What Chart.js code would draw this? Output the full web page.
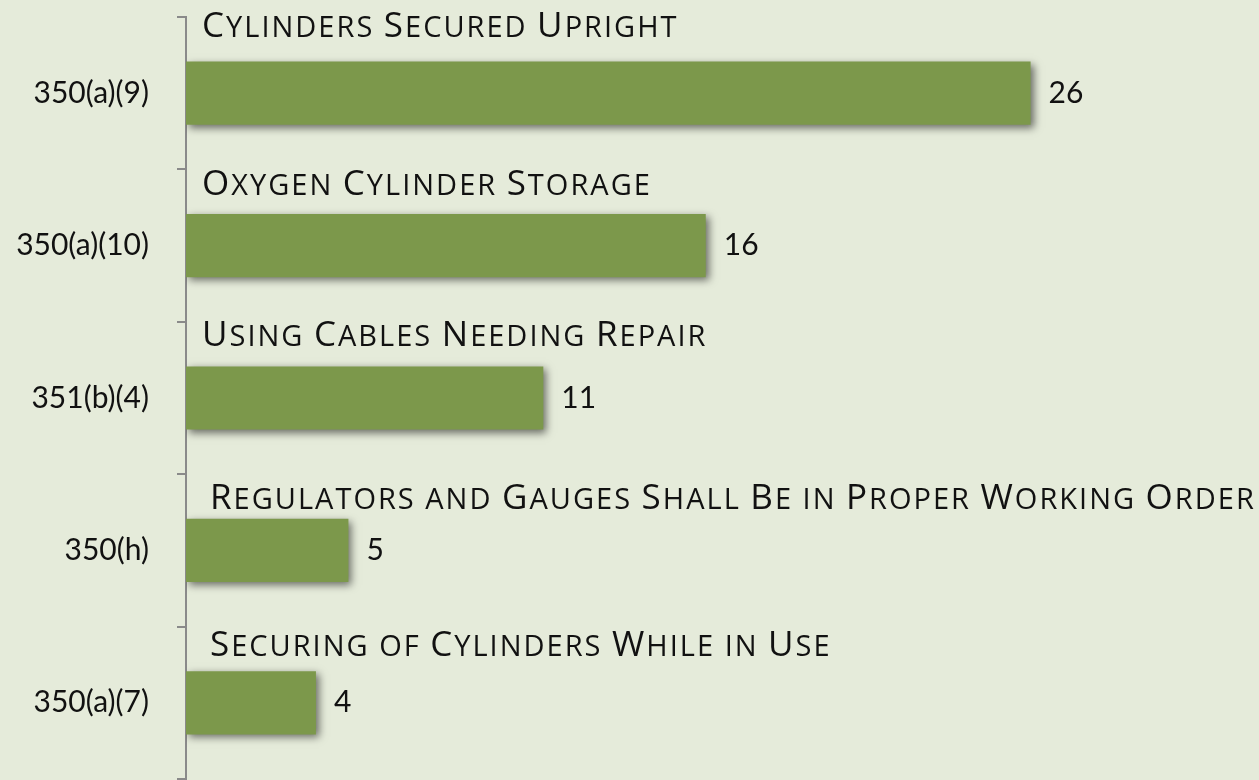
<!DOCTYPE html>
<html>
<head>
<meta charset="utf-8">
<script src="https://cdn.jsdelivr.net/npm/chart.js@4"></script>
<style>
  html, body { margin: 0; padding: 0; background: #e5ebda; }
  .chart-container { position: relative; width: 1259px; height: 780px; }
</style>
</head>
<body>
<div class="chart-container">
  <canvas id="chart"></canvas>
</div>
<script>
// standard codes (y axis), captions above each bar, citation counts
const codes = ["350(a)(9)", "350(a)(10)", "351(b)(4)", "350(h)", "350(a)(7)"];
const titles = [
  "Cylinders Secured Upright",
  "Oxygen Cylinder Storage",
  "Using Cables Needing Repair",
  "Regulators and Gauges Shall Be in Proper Working Order",
  "Securing of Cylinders While in Use",
];
const citations = [26, 16, 11, 5, 4];

const FONT = "Lato, 'Open Sans', sans-serif";
const TITLE_FONT = "'Open Sans', Lato, sans-serif";

// caption nudges (indent, gap above bar) - the text boxes sit a bit unevenly
const captionIndent = [16, 16, 16, 24, 24];
const captionGap = [25, 19, 20, 10, 15];

// draw text in small caps: capitals big, lowercase as smaller capitals
function drawSmallCaps(ctx, text, x, y, big, small, spacing) {
  for (const ch of text) {
    const isLower = ch !== ch.toUpperCase();
    const isSpace = ch === " ";
    ctx.font = (isLower || isSpace ? small : big) + "px " + TITLE_FONT;
    const c = ch.toUpperCase();
    ctx.fillText(c, x, y);
    x += ctx.measureText(c).width + spacing;
  }
}

const barShadow = {
  id: "barShadow",
  beforeDatasetsDraw(chart) {
    const ctx = chart.ctx;
    ctx.save();
    ctx.shadowColor = "rgba(0, 0, 0, 0.55)";
    ctx.shadowBlur = 8;
    ctx.shadowOffsetX = 3;
    ctx.shadowOffsetY = 3;
  },
  afterDatasetsDraw(chart) {
    chart.ctx.restore();
  },
};

const barLabels = {
  id: "barLabels",
  afterDatasetsDraw(chart) {
    const ctx = chart.ctx;
    const meta = chart.getDatasetMeta(0);
    ctx.save();
    ctx.fillStyle = "#111";
    meta.data.forEach((bar, i) => {
      // value to the right of the bar
      ctx.font = "30px " + FONT;
      ctx.textAlign = "left";
      ctx.textBaseline = "middle";
      ctx.fillText(String(citations[i]), bar.x + 18, bar.y);

      // caption above the bar
      ctx.textBaseline = "alphabetic";
      const top = bar.y - bar.height / 2;
      drawSmallCaps(ctx, titles[i], bar.base + captionIndent[i], top - captionGap[i], 35, 29, 2);
    });
    ctx.restore();
  },
};

new Chart(document.getElementById("chart"), {
  type: "bar",
  data: {
    labels: codes,
    datasets: [
      {
        data: citations,
        backgroundColor: "#7c984b",
        borderWidth: 0,
        categoryPercentage: 1,
        barPercentage: 0.415,
      },
    ],
  },
  options: {
    indexAxis: "y",
    responsive: true,
    maintainAspectRatio: false,
    animation: false,
    layout: {
      padding: { top: 17, bottom: 1, left: 0, right: 1 },
    },
    plugins: {
      legend: { display: false },
      tooltip: { enabled: false },
    },
    scales: {
      x: {
        display: false,
        min: 0,
        max: 33,
      },
      y: {
        afterFit(scale) {
          scale.width = 186;
          scale.paddingTop = 0;
          scale.paddingBottom = 0;
        },
        grid: {
          display: true,
          drawOnChartArea: false,
          drawTicks: true,
          tickLength: 9,
          color: "#8a8a8a",
          lineWidth: 2,
        },
        border: {
          display: true,
          color: "#8a8a8a",
          width: 2,
        },
        ticks: {
          color: "#111",
          padding: 28,
          font: { family: FONT, size: 30 },
        },
      },
    },
  },
  plugins: [barShadow, barLabels],
});
</script>
</body>
</html>
